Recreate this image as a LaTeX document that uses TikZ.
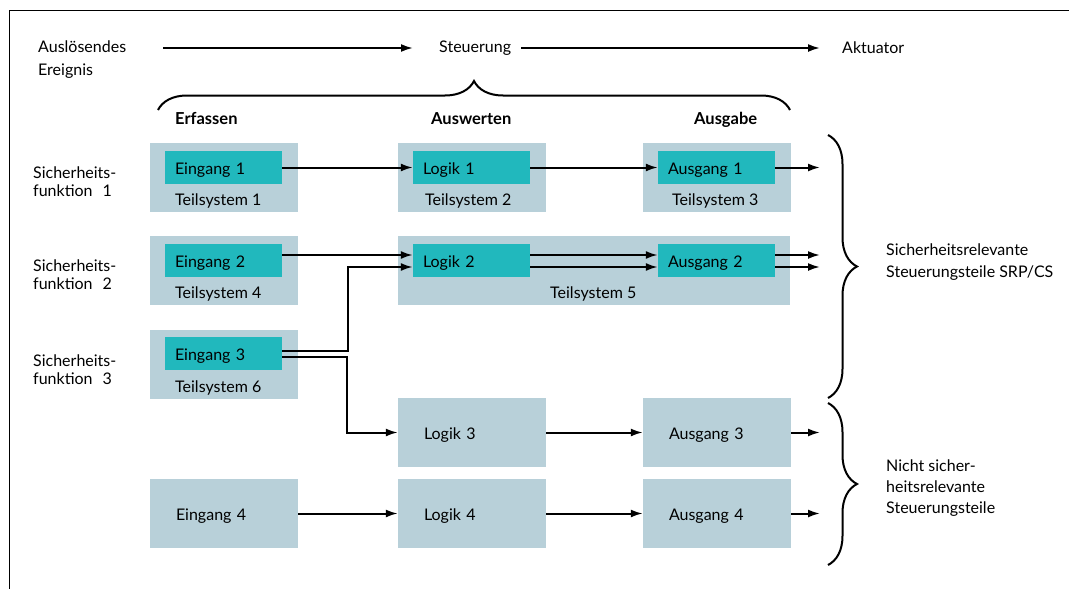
\documentclass[tikz,border=0pt]{standalone}
\usepackage{fontspec}
\setmainfont{Lato}
\usetikzlibrary{arrows.meta,calc,decorations.pathreplacing}
\definecolor{tsgrau}{RGB}{184,208,217}
\definecolor{tuerkis}{RGB}{33,184,189}
\begin{document}
\begin{tikzpicture}[x=1pt,y=-1pt,
  font=\fontsize{16}{18}\selectfont,
  ts/.style={fill=tsgrau, inner sep=0, minimum width=148, minimum height=69},
  tsbox/.style={ts, align=left, text width=96, inner xsep=26, text height=14, text depth=0},
  modul/.style={fill=tuerkis, inner ysep=0, inner xsep=10, minimum height=33, text width=97, align=left, text height=14, text depth=0},
  lbl/.style={anchor=base west, inner sep=0},
  kopf/.style={lbl, font=\fontsize{16.5}{18}\bfseries},
  txt/.style={anchor=west, inner sep=0, align=left},
  pfeil/.style={line width=2, -{Latex[length=12,width=8]}},
  klammer/.style={line width=2, decorate, decoration={brace, amplitude=29}}]
\useasboundingbox (0,0) rectangle (1069,589);
\draw[line width=1] (9,589) -- (9,10) -- (1069,10);
% Kopfzeile
\node[txt, font=\fontsize{16}{23}\selectfont] (ereignis) at (38,60) {Auslösendes\\Ereignis};
\node[lbl] (steuerung) at (439,52) {Steuerung};
\node[lbl] (aktuator) at (842,53) {Aktuator};
\coordinate (p1) at (163,48);
\draw[pfeil, shorten >=26] (p1) -- (p1 -| steuerung.west);
\draw[pfeil, shorten <=10, shorten >=22] (p1 -| steuerung.east) -- (p1 -| aktuator.west);
\draw[klammer] (158,110) -- (790,110);
\node[kopf] (erfassen) at (175,124) {Erfassen};
\node[kopf] (auswerten) at (431,124) {Auswerten};
\node[kopf] (ausgabe) at (694,124) {Ausgabe};
% Sicherheitsfunktionen
\node[txt] (sf1) at (33,181.5) {Sicherheits-\\funktion\hspace{10pt}1};
\node[txt] (sf2) at (33,275) {Sicherheits-\\funktion\hspace{10pt}2};
\node[txt] (sf3) at (33,369.5) {Sicherheits-\\funktion\hspace{10pt}3};
% Teilsysteme
\node[ts] (ts1) at (224,177.5) {};
\node[ts] (ts2) at (472,177.5) {};
\node[ts] (ts3) at (717,177.5) {};
\node[ts] (ts4) at (224,270.5) {};
\node[ts, minimum width=392] (ts5) at (594,270.5) {};
\node[ts] (ts6) at (224,364.5) {};
\node[tsbox] (lg3) at (472,432.5) {Logik 3};
\node[tsbox] (aus3) at (717,432.5) {Ausgang 3};
\node[tsbox] (ein4) at (224,513.5) {Eingang 4};
\node[tsbox] (lg4) at (472,513.5) {Logik 4};
\node[tsbox] (aus4) at (717,513.5) {Ausgang 4};
\node[modul] (ein1) at (223.5,167.5) {Eingang 1};
\node[modul] (lg1) at (471.5,167.5) {Logik 1};
\node[modul] (aus1) at (716.5,167.5) {Ausgang 1};
\node[modul] (ein2) at (223.5,260.5) {Eingang 2};
\node[modul] (lg2) at (471.5,260.5) {Logik 2};
\node[modul] (aus2) at (716.5,260.5) {Ausgang 2};
\node[modul] (ein3) at (223.5,353.5) {Eingang 3};
\node[lbl] (tl1) at (175,205) {Teilsystem 1};
\node[lbl] (tl2) at (425,205) {Teilsystem 2};
\node[lbl] (tl3) at (672,205) {Teilsystem 3};
\node[lbl] (tl4) at (175,298) {Teilsystem 4};
\node[lbl] (tl5) at (550,298) {Teilsystem 5};
\node[lbl] (tl6) at (175,392) {Teilsystem 6};
% Ausgaenge
\coordinate (r1) at (820,167.5);
\coordinate (r2a) at (820,255);
\coordinate (r2b) at (820,267);
\coordinate (r3) at (820,432.5);
\coordinate (r4) at (820,513.5);
\draw[pfeil] (ein1) -- (lg1);
\draw[pfeil] (lg1) -- (aus1);
\draw[pfeil] (aus1) -- (r1);
\draw[pfeil] ($(ein2.east)+(0,-5.5)$) -- ($(lg2.west)+(0,-5.5)$);
\draw[pfeil] ($(lg2.east)+(0,-5.5)$) -- ($(aus2.west)+(0,-5.5)$);
\draw[pfeil] ($(lg2.east)+(0,6.5)$) -- ($(aus2.west)+(0,6.5)$);
\draw[pfeil] ($(aus2.east)+(0,-5.5)$) -- (r2a);
\draw[pfeil] ($(aus2.east)+(0,6.5)$) -- (r2b);
\draw[pfeil] ($(ein3.east)+(0,-2.5)$) -- ++(66,0) |- ($(lg2.west)+(0,6.5)$);
\draw[pfeil] ($(ein3.east)+(0,3.5)$) -- ++(65,0) |- (lg3.west);
\draw[pfeil] (lg3) -- (aus3);
\draw[pfeil] (aus3) -- (r3);
\draw[pfeil] (ein4) -- (lg4);
\draw[pfeil] (lg4) -- (aus4);
\draw[pfeil] (aus4) -- (r4);
% Klammern rechts
\draw[klammer] (828,135) -- (828,398);
\draw[klammer] (828,403) -- (828,565);
\node[txt, font=\fontsize{16}{22}\selectfont] (srp) at (886,262) {Sicherheitsrelevante\\Steuerungsteile SRP/CS};
\node[txt, font=\fontsize{16}{21}\selectfont] (nsr) at (886,488) {Nicht sicher-\\heitsrelevante\\Steuerungsteile};
\end{tikzpicture}
\end{document}
